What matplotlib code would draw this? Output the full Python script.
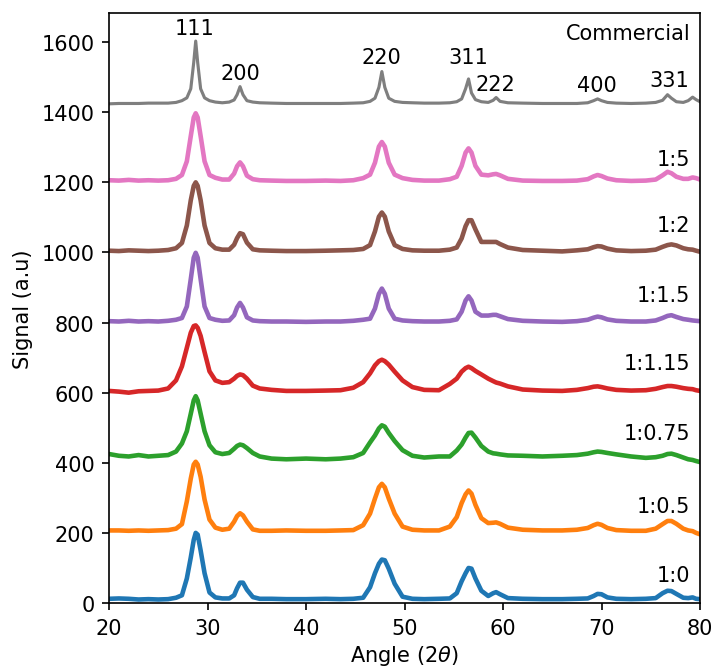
import numpy as np
import matplotlib
matplotlib.use("Agg")
import matplotlib.pyplot as plt

# shared angle grid (2theta, degrees)
angle = [20, 21, 22, 23, 24, 25, 26, 26.8,
         27.4, 27.9, 28.3, 28.6, 28.8, 29.0, 29.3, 29.7, 30.2, 30.8, 31.5,
         32.2, 32.7, 33.0, 33.3, 33.6, 34.0, 34.6, 35.3,
         36.5, 38, 40, 42, 43.5, 44.8,
         45.8, 46.5, 47.0, 47.4, 47.7, 48.0, 48.4, 49.0, 49.8, 50.8,
         52, 53.5, 54.6,
         55.3, 55.8, 56.2, 56.5, 56.8, 57.2, 57.8, 58.5,
         59.0, 59.3, 59.7, 60.5,
         62, 64, 66, 67.5,
         68.6, 69.2, 69.6, 70.0, 70.6, 71.5,
         73, 74.5,
         75.5, 76.2, 76.7, 77.1, 77.6, 78.3,
         78.8, 79.25, 79.6, 80]

s_1_0 = [12, 13, 12, 10, 11, 10, 11, 15,
         22, 70, 130, 180, 200, 195, 150, 85, 30, 16, 13,
         13, 22, 42, 58, 58, 38, 17, 12,
         12, 11, 11, 12, 11, 12,
         15, 45, 85, 112, 124, 122, 98, 55, 18, 12,
         11, 12, 13,
         28, 62, 85, 100, 98, 70, 35, 20,
         28, 31, 25, 14,
         12, 11, 11, 12,
         13, 20, 26, 25, 16, 12,
         11, 12,
         14, 28, 35, 34, 26, 15,
         14, 16, 12, 11]

s_1_05 = [207, 207, 206, 207, 206, 207, 208, 212,
          225, 290, 355, 395, 403, 395, 360, 295, 238, 215, 209,
          212, 232, 248, 256, 250, 232, 210, 206,
          206, 207, 206, 206, 207, 208,
          222, 255, 298, 330, 340, 330, 298, 255, 218, 209,
          207, 207, 218,
          245, 285, 310, 321, 312, 280, 242, 228,
          229, 230, 226, 215,
          209, 207, 207, 209,
          214, 222, 226, 223, 214, 208,
          206, 206,
          212, 225, 234, 234, 226, 212,
          207, 205, 200, 196]

s_1_075 = [425, 420, 418, 422, 418, 420, 422, 432,
           455, 490, 540, 578, 590, 578, 540, 490, 450, 430, 425,
           428, 440, 448, 452, 450, 442, 428, 418,
           412, 410, 412, 410, 412, 416,
           428, 458, 478, 498, 507, 503, 485, 462, 436, 420,
           415, 418, 418,
           435, 452, 472, 485, 486, 472, 448, 432,
           427, 426, 424, 421,
           420, 418, 420, 422,
           426, 430, 432, 431, 428, 424,
           418, 414,
           416, 420, 425, 426, 422, 415,
           410, 408, 405, 402]

s_1_115 = [605, 603, 600, 604, 605, 606, 612, 635,
           675, 728, 771, 790, 792, 785, 762, 716, 661, 635, 628,
           630, 640, 648, 652, 650, 640, 620, 612,
           608, 605, 605, 606, 607, 614,
           630, 655, 678, 690, 694, 690, 680, 660, 635, 616,
           608, 607, 625,
           640, 660, 670, 674, 670, 662, 652, 640,
           633, 629, 626, 618,
           609, 606, 605, 608,
           613, 617, 618, 616, 612, 608,
           606, 607,
           611, 616, 619, 619, 617, 613,
           611, 610, 607, 605]

s_1_15 = [804, 803, 805, 803, 804, 803, 805, 808,
          813, 846, 924, 985, 999, 985, 924, 846, 813, 808, 805,
          806, 821, 843, 856, 843, 815, 806, 804,
          803, 803, 802, 803, 803, 805,
          808, 811, 840, 882, 897, 882, 840, 811, 806, 804,
          803, 803, 805,
          809, 831, 863, 875, 863, 831, 820, 820,
          822, 822, 818, 810,
          805, 803, 802, 804,
          808, 814, 817, 815, 809, 805,
          803, 803,
          806, 813, 819, 821, 816, 810,
          808, 806, 805, 804]

s_1_2 = [1005, 1004, 1006, 1005, 1004, 1005, 1007, 1012,
         1027, 1077, 1149, 1190, 1200, 1190, 1149, 1077, 1027, 1012, 1008,
         1008, 1022, 1041, 1055, 1052, 1028, 1009, 1006,
         1005, 1004, 1004, 1005, 1006, 1007,
         1010, 1021, 1060, 1102, 1114, 1102, 1060, 1021, 1010, 1006,
         1005, 1005, 1008,
         1014, 1040, 1075, 1092, 1092, 1066, 1030, 1030,
         1030, 1030, 1024, 1014,
         1007, 1005, 1003, 1006,
         1009, 1015, 1018, 1017, 1011, 1006,
         1004, 1005,
         1008, 1016, 1021, 1023, 1020, 1012,
         1009, 1008, 1005, 1002]

s_1_5 = [1206, 1205, 1207, 1205, 1206, 1205, 1206, 1210,
         1221, 1260, 1332, 1385, 1397, 1385, 1332, 1260, 1221, 1213, 1208,
         1208, 1225, 1246, 1257, 1246, 1219, 1209, 1206,
         1205, 1204, 1204, 1205, 1204, 1206,
         1212, 1222, 1256, 1302, 1315, 1302, 1256, 1222, 1212, 1207,
         1205, 1205, 1209,
         1216, 1247, 1285, 1297, 1285, 1247, 1222, 1220,
         1223, 1224, 1220, 1210,
         1205, 1204, 1204, 1205,
         1209, 1217, 1221, 1218, 1211, 1206,
         1204, 1205,
         1208, 1220, 1230, 1226, 1216, 1210,
         1210, 1214, 1212, 1208]

s_comm = [1424, 1425, 1425, 1425, 1426, 1426, 1426, 1428,
          1433, 1441, 1467, 1542, 1603, 1542, 1467, 1441, 1433, 1429, 1427,
          1429, 1435, 1450, 1473, 1450, 1433, 1429, 1427,
          1426, 1425, 1425, 1425, 1425, 1426,
          1427, 1431, 1440, 1471, 1516, 1471, 1440, 1431, 1428, 1427,
          1426, 1426, 1427,
          1430, 1438, 1467, 1495, 1455, 1436, 1430, 1428,
          1434, 1442, 1431, 1427,
          1426, 1425, 1425, 1425,
          1427, 1433, 1438, 1433, 1428, 1426,
          1425, 1426,
          1428, 1434, 1450, 1440, 1430, 1428,
          1433, 1443, 1436, 1430]

series = [s_1_0, s_1_05, s_1_075, s_1_115, s_1_15, s_1_2, s_1_5, s_comm]
series_labels = ["1:0", "1:0.5", "1:0.75", "1:1.15", "1:1.5", "1:2", "1:5", "Commercial"]
label_y = [51, 249, 456, 656, 851, 1051, 1238, 1597]

peak_names = ["111", "200", "220", "311", "222", "400", "331"]
peak_x = [28.7, 33.3, 47.6, 56.5, 59.25, 69.55, 76.85]
peak_y = [1613, 1483, 1529, 1530, 1452, 1449, 1462]

colors = ["tab:blue", "tab:orange", "tab:green", "tab:red",
          "tab:purple", "tab:brown", "tab:pink", "tab:gray"]

fig = plt.figure(figsize=(4.76, 4.4533), dpi=150)
ax = fig.add_axes([0.1527, 0.0958, 0.9804 - 0.1527, 0.979 - 0.0958])

for s, c in zip(series, colors):
    lw = 1.5 if c == "tab:gray" else 2.2
    ax.plot(angle, s, color=c, lw=lw)

for lab, ly in zip(series_labels, label_y):
    ax.text(79.0, ly, lab, ha="right", va="bottom", fontsize=10)

for name, px, py in zip(peak_names, peak_x, peak_y):
    ax.text(px, py, name, ha="center", va="bottom", fontsize=10)

ax.set_xlim(20, 80)
ax.set_ylim(0, 1683)
ax.set_xticks([20, 30, 40, 50, 60, 70, 80])
ax.set_yticks([0, 200, 400, 600, 800, 1000, 1200, 1400, 1600])
ax.set_xlabel(r"Angle (2$\theta$)", labelpad=2.5)
ax.set_ylabel("Signal (a.u)")

fig.savefig("out.png", dpi=150)
